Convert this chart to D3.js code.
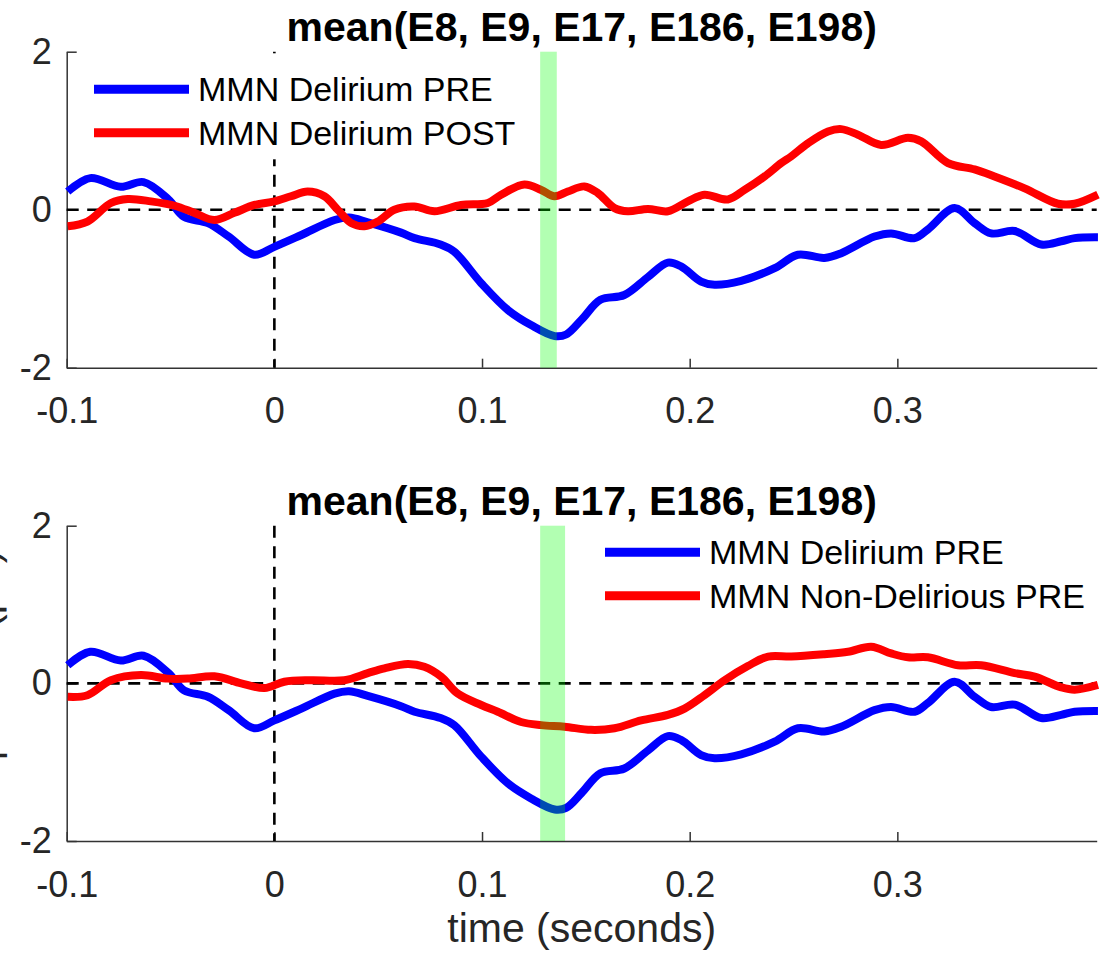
<!DOCTYPE html>
<html>
<head>
<meta charset="utf-8">
<script src="https://cdn.jsdelivr.net/npm/d3@7"></script>
<style>
  body { margin: 0; background: #fff; }
  svg text { font-family: "Liberation Sans", Arial, Helvetica, sans-serif; }
</style>
</head>
<body>
<svg id="fig" width="1109" height="956"></svg>
<script>
// ERP traces averaged over fronto-central electrodes (time in s, amplitude in µV)
const preTime = [-0.0995, -0.0886, -0.074, -0.063, -0.051, -0.0435, -0.032, -0.022, -0.0097, 0,
  0.013, 0.029, 0.036, 0.045, 0.061, 0.0675, 0.08, 0.0866, 0.0996, 0.1125, 0.1236, 0.135, 0.1405,
  0.148, 0.157, 0.1685, 0.18, 0.1895, 0.196, 0.2055, 0.212, 0.2248, 0.2409, 0.2521, 0.2649, 0.273,
  0.289, 0.297, 0.3083, 0.3147, 0.3276, 0.3372, 0.3452, 0.3565, 0.3693, 0.3789, 0.3854, 0.3966];
const preAmp = [0.23, 0.40, 0.29, 0.35, 0.13, -0.09, -0.17, -0.34, -0.57, -0.47,
  -0.32, -0.13, -0.10, -0.16, -0.29, -0.36, -0.44, -0.53, -0.93, -1.27, -1.46, -1.60, -1.58,
  -1.39, -1.14, -1.08, -0.85, -0.67, -0.72, -0.91, -0.95, -0.90, -0.74, -0.57, -0.61, -0.55,
  -0.34, -0.30, -0.36, -0.25, 0.02, -0.17, -0.30, -0.27, -0.44, -0.40, -0.36, -0.35];

const postTime = [-0.0995, -0.09, -0.0787, -0.0706, -0.0594, -0.048, -0.0385, -0.0289, -0.0193, -0.0096,
  0, 0.008, 0.016, 0.0241, 0.0305, 0.037, 0.0434, 0.0498, 0.0578, 0.0674, 0.0771, 0.0899, 0.1028,
  0.1092, 0.1204, 0.1285, 0.1349, 0.1413, 0.1493, 0.1558, 0.1638, 0.1702, 0.1799, 0.1895, 0.1991,
  0.2071, 0.2184, 0.2264, 0.236, 0.2441, 0.2489, 0.2569, 0.2666, 0.273, 0.281, 0.2922, 0.3051,
  0.3115, 0.3244, 0.3372, 0.3468, 0.3613, 0.3774, 0.3854, 0.3966];
const postAmp = [-0.21, -0.15, 0.085, 0.135, 0.105, 0.05, -0.04, -0.13, -0.04, 0.06,
  0.105, 0.17, 0.23, 0.17, 0.0, -0.17, -0.21, -0.15, 0.0, 0.04, -0.02, 0.06, 0.085,
  0.19, 0.32, 0.25, 0.17, 0.23, 0.295, 0.21, 0.02, -0.02, 0.01, -0.02, 0.105,
  0.19, 0.13, 0.25, 0.42, 0.59, 0.675, 0.84, 0.99, 1.02, 0.95, 0.82, 0.91,
  0.865, 0.59, 0.51, 0.42, 0.27, 0.075, 0.075, 0.19];

const nonDelTime = [-0.0995, -0.09, -0.0787, -0.0642, -0.0514, -0.0417, -0.0289, -0.016, -0.0048, 0.0048,
  0.0177, 0.0337, 0.045, 0.053, 0.0643, 0.0722, 0.0803, 0.0883, 0.0996, 0.1076, 0.1188, 0.1285,
  0.1397, 0.1525, 0.1638, 0.1766, 0.1895, 0.1975, 0.2071, 0.2168, 0.228, 0.2378, 0.2489, 0.2649,
  0.2762, 0.2874, 0.297, 0.3051, 0.3147, 0.3292, 0.3404, 0.3565, 0.3661, 0.3789, 0.3854, 0.3966];
const nonDelAmp = [-0.17, -0.15, 0.04, 0.105, 0.06, 0.06, 0.09, 0.0, -0.06, 0.02,
  0.04, 0.04, 0.13, 0.19, 0.245, 0.21, 0.085, -0.13, -0.275, -0.36, -0.49, -0.53,
  -0.55, -0.59, -0.57, -0.47, -0.40, -0.32, -0.15, 0.04, 0.22, 0.34, 0.34, 0.37,
  0.40, 0.465, 0.38, 0.33, 0.33, 0.23, 0.23, 0.13, 0.085, -0.05, -0.08, -0.02];

const timeDomain = [-0.1, 0.396];
const ampDomain = [-2, 2];
const xTicks = [-0.1, 0, 0.1, 0.2, 0.3];
const yTicks = [-2, 0, 2];
const titleText = "mean(E8, E9, E17, E186, E198)";
const xLabelText = "time (seconds)";
const yLabelText = "amplitude (\u03bcV)";
const topLegend = ["MMN Delirium PRE", "MMN Delirium POST"];
const bottomLegend = ["MMN Delirium PRE", "MMN Non-Delirious PRE"];
const topWindow = [0.128, 0.136];
const bottomWindow = [0.128, 0.140];

const BLUE = "#0000ff", RED = "#ff0000", AXIS = "#333333";
const svg = d3.select("#fig");
const x = d3.scaleLinear().domain(timeDomain).range([66.7, 1096.7]);

const zip = (ts, vs) => ts.map((t, i) => [t, vs[i]]);

function drawPanel(top, bottom, series, windowRange, legend) {
  const y = d3.scaleLinear().domain(ampDomain).range([bottom, top]);
  const g = svg.append("g");

  // axes (inward ticks, left + bottom only)
  const xAxis = d3.axisBottom(x).tickValues(xTicks).tickSizeInner(-9).tickSizeOuter(0)
    .tickPadding(30).tickFormat(d => String(d));
  const yAxis = d3.axisLeft(y).tickValues(yTicks).tickSizeInner(-10).tickSizeOuter(0)
    .tickPadding(15).tickFormat(d => String(d));
  const gx = g.append("g").attr("transform", `translate(0,${bottom})`).call(xAxis);
  const gy = g.append("g").attr("transform", `translate(${x.range()[0]},0)`).call(yAxis);
  [gx, gy].forEach(a => {
    a.select(".domain").attr("stroke", AXIS).attr("stroke-width", 1.5);
    a.selectAll(".tick line").attr("stroke", AXIS).attr("stroke-width", 1.5);
    a.selectAll(".tick text").attr("fill", "#262626").attr("font-size", 36)
      .style("font-family", "'Liberation Sans', Arial, sans-serif");
  });

  // zero reference lines
  g.append("line").attr("x1", x.range()[0]).attr("x2", x.range()[1])
    .attr("y1", y(0)).attr("y2", y(0))
    .attr("stroke", "#000").attr("stroke-width", 2.6).attr("stroke-dasharray", "12,8.5");
  g.append("line").attr("x1", x(0)).attr("x2", x(0))
    .attr("y1", y(ampDomain[1])).attr("y2", y(ampDomain[0]))
    .attr("stroke", "#000").attr("stroke-width", 2.6).attr("stroke-dasharray", "12,8.5");

  // traces
  const line = d3.line().x(d => x(d[0])).y(d => y(d[1])).curve(d3.curveCatmullRom.alpha(0.5));
  series.forEach(s => {
    g.append("path").datum(s.data).attr("d", line)
      .attr("fill", "none").attr("stroke", s.color).attr("stroke-width", 8)
      .attr("stroke-linejoin", "round").attr("stroke-linecap", "butt");
  });

  // analysis window
  g.append("rect").attr("x", x(windowRange[0])).attr("width", x(windowRange[1]) - x(windowRange[0]))
    .attr("y", top).attr("height", bottom - top)
    .attr("fill", "#00ff00").attr("fill-opacity", 0.3);

  // title
  g.append("text").attr("x", (x.range()[0] + x.range()[1]) / 2).attr("y", top - 10.5)
    .attr("text-anchor", "middle").attr("font-size", 41).attr("font-weight", "bold")
    .attr("fill", "#000").text(titleText);

  // legend (opaque background, no frame)
  const lg = g.append("g").attr("transform", `translate(${legend.x},${legend.y})`);
  lg.append("rect").attr("x", legend.bx).attr("y", legend.by).attr("width", legend.bw)
    .attr("height", legend.bh).attr("fill", "#fff");
  legend.labels.forEach((lab, i) => {
    const yy = i * 43.5;
    lg.append("line").attr("x1", 0).attr("x2", 95).attr("y1", yy).attr("y2", yy)
      .attr("stroke", series[i].color).attr("stroke-width", 9);
    lg.append("text").attr("x", 104).attr("y", yy).attr("dy", "0.35em")
      .attr("font-size", 34).attr("fill", "#000").text(lab);
  });
  return { g, y };
}

drawPanel(51.7, 367.7,
  [{ data: zip(preTime, preAmp), color: BLUE }, { data: zip(postTime, postAmp), color: RED }],
  topWindow,
  { x: 94, y: 89.3, bx: -20, by: -36, bw: 445, bh: 106, labels: topLegend });

const bottomPanel = drawPanel(525.7, 841,
  [{ data: zip(preTime, preAmp), color: BLUE }, { data: zip(nonDelTime, nonDelAmp), color: RED }],
  bottomWindow,
  { x: 605, y: 552.3, bx: -12, by: -24, bw: 490, bh: 90, labels: bottomLegend });

// shared axis labels
svg.append("text").attr("x", (x.range()[0] + x.range()[1]) / 2).attr("y", 941.5)
  .attr("text-anchor", "middle").attr("font-size", 41).attr("fill", "#262626").text(xLabelText);
svg.append("text").attr("transform", `translate(-1,${(525.7 + 841) / 2}) rotate(-90)`)
  .attr("text-anchor", "middle").attr("font-size", 41).attr("fill", "#262626").text(yLabelText);
</script>
</body>
</html>
